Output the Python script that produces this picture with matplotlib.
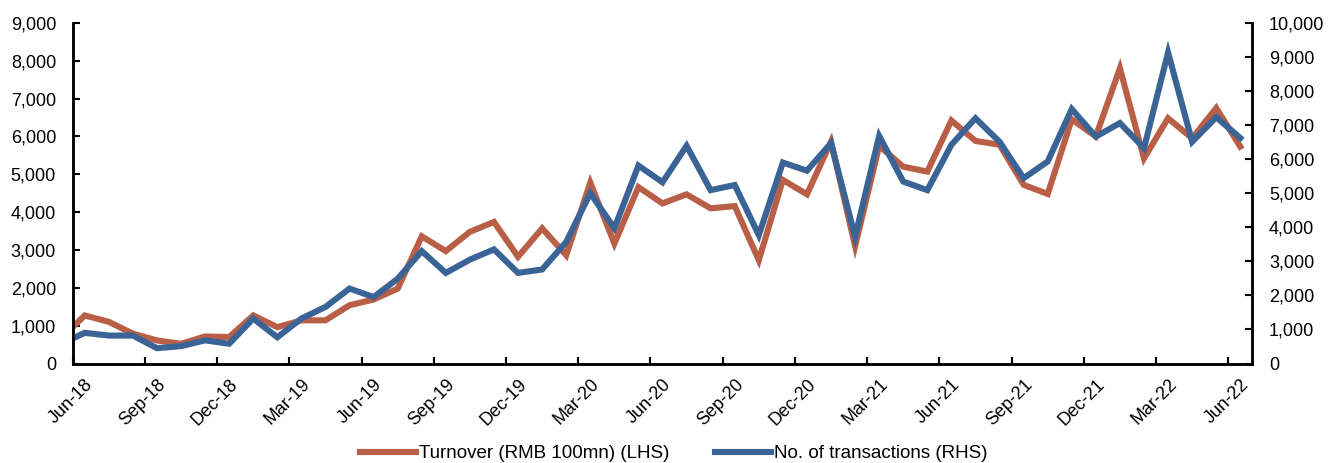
import numpy as np
import matplotlib.pyplot as plt

plt.rcParams['font.family'] = ['Liberation Sans', 'DejaVu Sans']

# Monthly data, May-18 .. Jun-22 (May-18 only appears as the clipped segment at the left edge)
months = ["May-18",
          "Jun-18", "Jul-18", "Aug-18", "Sep-18", "Oct-18", "Nov-18", "Dec-18",
          "Jan-19", "Feb-19", "Mar-19", "Apr-19", "May-19", "Jun-19", "Jul-19",
          "Aug-19", "Sep-19", "Oct-19", "Nov-19", "Dec-19", "Jan-20", "Feb-20",
          "Mar-20", "Apr-20", "May-20", "Jun-20", "Jul-20", "Aug-20", "Sep-20",
          "Oct-20", "Nov-20", "Dec-20", "Jan-21", "Feb-21", "Mar-21", "Apr-21",
          "May-21", "Jun-21", "Jul-21", "Aug-21", "Sep-21", "Oct-21", "Nov-21",
          "Dec-21", "Jan-22", "Feb-22", "Mar-22", "Apr-22", "May-22", "Jun-22"]

turnover = [650,
            1270, 1100, 790, 610, 520, 715, 700, 1270, 960, 1140, 1140, 1540,
            1690, 1980, 3360, 2970, 3480, 3740, 2820, 3570, 2860, 4780, 3170,
            4660, 4230, 4470, 4100, 4160, 2730, 4850, 4470, 5860, 3100, 5750,
            5200, 5070, 6420, 5880, 5780, 4720, 4480, 6450, 6000, 7800, 5420,
            6480, 5950, 6750, 5730]

transactions = [570,
                900, 820, 820, 450, 510, 680, 580, 1320, 770, 1320, 1660, 2200,
                1950, 2490, 3300, 2660, 3050, 3350, 2660, 2760, 3570, 5000, 3970,
                5810, 5320, 6390, 5090, 5240, 3770, 5900, 5660, 6470, 3720, 6680,
                5340, 5090, 6420, 7200, 6510, 5440, 5930, 7470, 6660, 7060, 6320,
                9130, 6510, 7230, 6620]

red = "#BA5F47"
blue = "#3A6496"

x = np.arange(len(months)) - 1  # Jun-18 sits at 0

fig = plt.figure(figsize=(13.29, 4.63), dpi=100)
ax = fig.add_axes([0.0547, 0.2149, 0.8876, 0.7357])
ax2 = ax.twinx()

ax.plot(x, turnover, color=red, lw=4.4, solid_joinstyle="miter",
        label="Turnover (RMB 100mn) (LHS)")
ax2.plot(x, transactions, color=blue, lw=4.4, solid_joinstyle="miter",
         label="No. of transactions (RHS)")

ax.set_xlim(-0.5, 48.5)
ax.set_ylim(0, 9000)
ax2.set_ylim(0, 10000)
ax.set_yticks(np.arange(0, 9001, 1000))
ax2.set_yticks(np.arange(0, 10001, 1000))
ax.set_yticklabels([f"{v:,}" for v in range(0, 9001, 1000)])
ax2.set_yticklabels([f"{v:,}" for v in range(0, 10001, 1000)])

# labels centred on every third month, tick marks on category boundaries
lab_pos = np.arange(0, 49, 3)
ax.set_xticks(lab_pos)
ax.set_xticklabels([months[i + 1] for i in lab_pos], rotation=45,
                   ha="right", va="top", rotation_mode="anchor")
ax.set_xticks(lab_pos - 0.5, minor=True)
ax.tick_params(axis="x", which="major", length=0, pad=9, labelsize=13)
ax.tick_params(axis="x", which="minor", direction="in", length=5, width=1.5)
ax.tick_params(axis="y", direction="in", length=5, width=1.5, labelsize=13, pad=12)
ax2.tick_params(axis="y", direction="in", length=5, width=1.5, labelsize=13, pad=12)

for a in (ax, ax2):
    a.spines["top"].set_visible(False)
    for s in ("left", "right", "bottom"):
        a.spines[s].set_linewidth(1.8)

h1, l1 = ax.get_legend_handles_labels()
h2, l2 = ax2.get_legend_handles_labels()
fig.legend(h1 + h2, l1 + l2, loc="lower center", bbox_to_anchor=(0.507, -0.035),
           ncol=2, frameon=False, fontsize=13.5, handlelength=3.0,
           handletextpad=0.16, columnspacing=2.45)

fig.savefig("out.png", dpi=100)
